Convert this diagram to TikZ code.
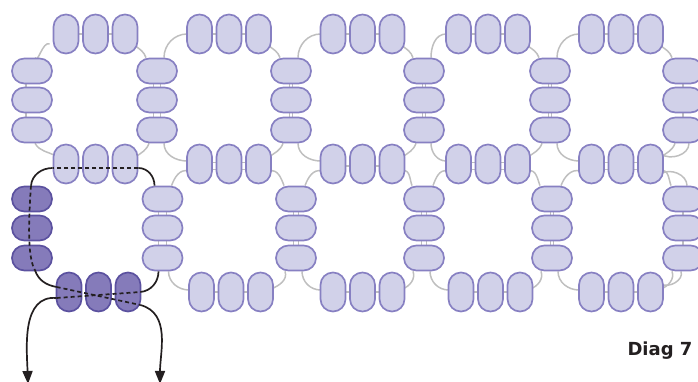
\documentclass[tikz,border=0pt]{standalone}
\usepackage{fontspec}
\setmainfont{DejaVu Sans}
\usetikzlibrary{backgrounds,arrows.meta}
\definecolor{beadf}{HTML}{D1D1E9}
\definecolor{beadd}{HTML}{8780C2}
\definecolor{darkf}{HTML}{857BBA}
\definecolor{darkd}{HTML}{5B519F}
\definecolor{threadg}{HTML}{BFBFBF}
\definecolor{threadk}{HTML}{231F20}
\tikzset{
  vbead/.style={draw=beadd,fill=beadf,line width=1.7pt,minimum width=25pt,minimum height=39pt,rounded corners=12.4pt,inner sep=0pt},
  hbead/.style={vbead,minimum width=40pt,minimum height=25pt},
  dark/.style={draw=darkd,fill=darkf},
  graythr/.style={draw=threadg,line width=1.5pt},
  blackthr/.style={draw=threadk,line width=1.7pt},
  dashthr/.style={blackthr,dash pattern=on 4pt off 3pt}
}
\begin{document}
\begin{tikzpicture}[x=1pt,y=1pt,>={Triangle[length=13pt,width=10pt]}]
  \useasboundingbox (0,0) rectangle (698,382);
  % beads, rows of three
  \foreach \c/\x in {1/95.5,2/229,3/362.5,4/488,5/621} {
    \foreach \i/\d in {1/-29.5,2/0,3/29.5} {
      \node[vbead] (T\c\i) at (\x+\d,348) {};
      \node[vbead] (M\c\i) at (\x+\d,218) {};
    }
  }
  \foreach \c/\x in {2/231,3/362.5,4/490.5,5/621} {
    \foreach \i/\d in {1/-29.5,2/0,3/29.5} \node[vbead] (B\c\i) at (\x+\d,90) {};
  }
  \foreach \i/\x in {1/69,2/98.5,3/128} \node[vbead,dark] (B1\i) at (\x,90) {};
  % beads, columns of three
  \foreach \c/\x in {1/32,2/157,3/291,4/424,5/550,6/683} {
    \foreach \i/\y in {1/311,2/282,3/252} \node[hbead] (U\c\i) at (\x,\y) {};
  }
  \foreach \c/\x in {2/162.5,3/296,4/424,5/552,6/683} {
    \foreach \i/\y in {1/183,2/154,3/124} \node[hbead] (L\c\i) at (\x,\y) {};
  }
  \foreach \i/\y in {1/183,2/154,3/124} \node[hbead,dark] (L1\i) at (32,\y) {};
  % grey thread behind the beads
  \begin{pgfonlayer}{background}
    \foreach \c/\n in {1/2,2/3,3/4,4/5,5/6} {
      \draw[graythr] ([shift={(-3,-12)}]T\c3.east) to[out=-35,in=110] ([xshift=-11]U\n1.north);
      \draw[graythr] ([xshift=-8]U\n3.south) to[out=-110,in=35] ([shift={(-3,7)}]M\c3.east);
      \foreach \i/\j in {1/2,2/3} \draw[graythr] (T\c\i) -- (T\c\j);
    }
    \foreach \c/\d in {2/3.5,3/0,4/3.5,5/3.5} {
      \foreach \i/\j in {1/2,2/3} {
        \draw[graythr] ([yshift=\d-2]M\c\i.center) -- ([yshift=\d-2]M\c\j.center);
        \draw[graythr] ([yshift=-\d-2]M\c\i.center) -- ([yshift=-\d-2]M\c\j.center);
      }
    }
    \foreach \c in {2,3,4,5} {
      \draw[graythr] ([xshift=1]T\c1.west) to[out=180,in=90] ([xshift=7]U\c1.north);
      \draw[graythr] ([xshift=7]U\c3.south) to[out=-90,in=180] ([shift={(1,3)}]M\c1.west);
      \draw[graythr] ([shift={(2,-7)}]M\c1.west) to[out=165,in=70] ([xshift=9]L\c1.north);
      \draw[graythr] ([xshift=6]L\c3.south) to[out=-90,in=180] ([shift={(1,2)}]B\c1.west);
      \foreach \i/\j in {1/2,2/3} \draw[graythr] (B\c\i) -- (B\c\j);
    }
    \foreach \c/\n in {2/3,3/4,4/5,5/6} {
      \draw[graythr] ([shift={(-2,-7)}]M\c3.east) to[out=15,in=110] ([xshift=-12]L\n1.north);
      \draw[graythr] ([shift={(-3,3)}]B\c3.east) to[out=20,in=-70] ([xshift=-11]L\n3.south);
    }
    \draw[graythr] ([shift={(-3,10)}]M53.east) to[out=-35,in=-90] ([xshift=6]U63.south);
    \draw[graythr] ([shift={(-3,-10)}]M53.east) to[out=35,in=90] ([xshift=4]L61.north);
    \draw[graythr] ([shift={(-3,-10)}]T11.west) to[out=155,in=-70] ([xshift=3]U11.north);
    \draw[graythr] ([xshift=3]U13.south) to[out=-60,in=150] ([shift={(3,8)}]M11.west);
    \foreach \i/\j in {1/2,2/3} {
      \draw[graythr] ([xshift=-6]U1\i.center) -- ([xshift=-6]U1\j.center);
      \draw[graythr] (U6\i) -- (U6\j);
      \draw[graythr] (L6\i) -- (L6\j);
    }
    \foreach \c/\d/\e in {2/3.5/4,3/1.5/2.5,4/1.5/2.5,5/1.5/1.5} {
      \foreach \i/\j in {1/2,2/3} {
        \draw[graythr] ([xshift=-\d]U\c\i.center) -- ([xshift=-\d]U\c\j.center);
        \draw[graythr] ([xshift=\d]U\c\i.center) -- ([xshift=\d]U\c\j.center);
        \draw[graythr] ([xshift=-\e]L\c\i.center) -- ([xshift=-\e]L\c\j.center);
        \draw[graythr] ([xshift=\e]L\c\i.center) -- ([xshift=\e]L\c\j.center);
      }
    }
    \draw[graythr] ([shift={(-3,8)}]B53.east) to[out=-30,in=-70] ([xshift=-2]L63.south);
  \end{pgfonlayer}
  % black thread
  \coordinate (endl) at (28,-2);
  \coordinate (endr) at (160,-2);
  \coordinate (ba) at ([shift={(1,-6)}]B11.west);
  \coordinate (bb) at ([xshift=-1]B13.east);
  \coordinate (bc) at ([shift={(1,5)}]B11.west);
  \coordinate (bd) at ([shift={(-1,-13)}]B13.east);
  \coordinate (ma) at ([yshift=-4]M13.east);
  \coordinate (mb) at ([yshift=-4]M11.west);
  \draw[blackthr,->] (ba) to[out=175,in=92] (endl);
  \draw[dashthr] (ba) -- (bb);
  \draw[blackthr] (bb) to[out=5,in=-90] ([xshift=-4]L23.south);
  \draw[blackthr] ([xshift=-8]L21.north) to[out=90,in=0] (ma);
  \draw[dashthr] (ma) -- (mb);
  \draw[blackthr] (mb) to[out=180,in=85] ([xshift=-1]L11.north);
  \draw[dashthr] ([xshift=-1]L11.north) .. controls ([xshift=-4]L12.center) and ([xshift=-4]L13.center) .. ([shift={(3,1)}]L13.south);
  \draw[blackthr] ([shift={(3,1)}]L13.south) to[out=-70,in=170] (bc);
  \draw[dashthr] (bc) -- (bd);
  \draw[blackthr,->] (bd) to[out=-15,in=90] (endr);
  \node[font=\fontsize{18}{20}\bfseries,text=threadk] (diag) at (660,31) {Diag 7};
\end{tikzpicture}
\end{document}
